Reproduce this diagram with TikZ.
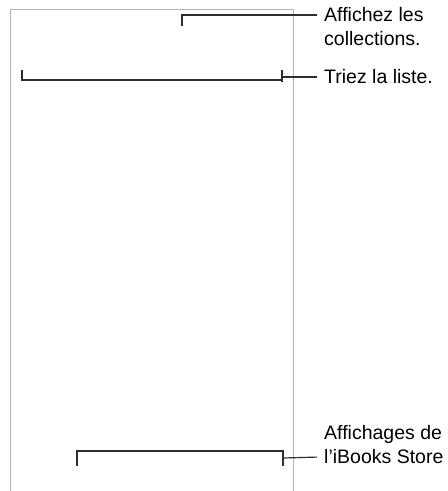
\documentclass[tikz,border=0pt]{standalone}
\usepackage{fontspec}
\setmainfont{Liberation Sans}
\usetikzlibrary{positioning}
\definecolor{framegray}{HTML}{B4B4B4}
\definecolor{callgray}{HTML}{2E2E2E}
\tikzset{
  frame/.style = {draw=framegray, line width=0.9pt},
  bracket/.style = {draw=callgray, line width=1.2pt},
  callout/.style = {draw=callgray, line width=1.2pt, shorten >=3pt},
  lbl/.style = {font=\fontsize{19.5}{24}\selectfont, inner xsep=4pt, inner ysep=0pt, text=black}
}
\begin{document}
\begin{tikzpicture}[x=1pt, y=-1pt]
  \useasboundingbox (0,0) rectangle (448,491);
  % device outline, open at the bottom
  \draw[frame] (10,491) -- (10,9) -- (293,9) -- (293,491);
  % labels
  \node[lbl, anchor=west] (affichez) at (320,15) {Affichez les};
  \node[lbl, anchor=base west] (collections) at ([yshift=-24pt]affichez.base west) {collections.};
  \node[lbl, anchor=west] (triez) at (320,77) {Triez la liste.};
  \node[lbl, anchor=west] (ibooks) at (320,457) {l’iBooks Store};
  \node[lbl, anchor=base west] (affichages) at ([yshift=24pt]ibooks.base west) {Affichages de};
  % collections
  \coordinate (collTick) at (182,26);
  \coordinate (collCorner) at (182,15);
  \draw[callout] (collTick) -- (collCorner) -- (affichez.west);
  % sort bar
  \coordinate (sortL) at (22,70);
  \coordinate (sortR) at (282,77);
  \draw[bracket] (sortL) -- (22,80) -- (282,80);
  \draw[bracket] (282,70) -- (282,82);
  \draw[callout] (sortR) -- (triez.west);
  % store buttons
  \coordinate (storeL) at (77,466);
  \coordinate (storeR) at (283,458);
  \draw[bracket] (storeL) -- (77,451) -- (283,451) -- (283,466);
  \draw[callout] (storeR) -- (ibooks.west);
\end{tikzpicture}
\end{document}
